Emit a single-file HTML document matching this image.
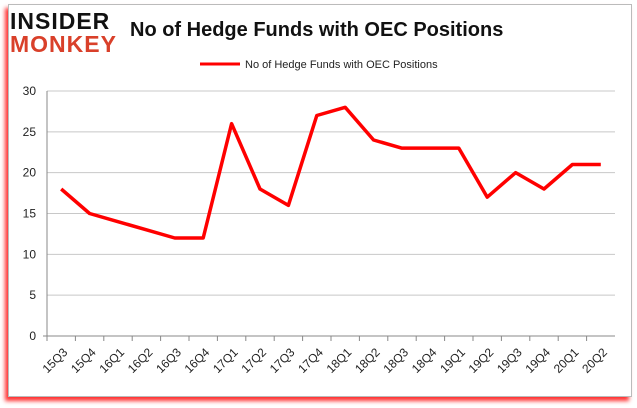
<!DOCTYPE html>
<html><head><meta charset="utf-8"><style>
body{margin:0;width:637px;height:408px;background:#fff;overflow:hidden;font-family:"Liberation Sans",sans-serif}
#frame{position:absolute;left:8px;top:4px;width:622px;height:391px;border:1px solid #bbb;background:#fff;box-shadow:-3px 4px 4px #f33}
</style></head><body>
<div id="frame"></div>
<svg id="c" width="637" height="408" style="position:absolute;left:0;top:0">
<text x="10" y="29" font-size="23" font-weight="bold" fill="#111" font-family="Liberation Sans" letter-spacing="1">INSIDER</text>
<text x="10" y="52" font-size="23" font-weight="bold" fill="#d9402a" font-family="Liberation Sans" letter-spacing="1">MONKEY</text>
<text x="130" y="36" font-size="20" font-weight="bold" fill="#111">No of Hedge Funds with OEC Positions</text>
<line x1="200" y1="64" x2="240" y2="64" stroke="#f00" stroke-width="3"/>
<text x="245" y="68" font-size="11" fill="#222">No of Hedge Funds with OEC Positions</text>
</svg>
<script>
const categories=["15Q3","15Q4","16Q1","16Q2","16Q3","16Q4","17Q1","17Q2","17Q3","17Q4","18Q1","18Q2","18Q3","18Q4","19Q1","19Q2","19Q3","19Q4","20Q1","20Q2"];
const values=[18,15,14,13,12,12,26,18,16,27,28,24,23,23,23,17,20,18,21,21];
const yTicks=[0,5,10,15,20,25,30];
const svg=document.getElementById('c');const NS="http://www.w3.org/2000/svg";
const L=47,R=615,T=91,B=336;
const step=(R-L)/categories.length;
const x=i=>L+step*(i+0.5);
const y=v=>B-(v/30)*(B-T);
function mk(t,a){const e=document.createElementNS(NS,t);for(const k in a)e.setAttribute(k,a[k]);svg.appendChild(e);return e;}
yTicks.forEach(v=>{
 if(v>0){const g=mk('line',{x1:L,x2:R,y1:y(v),y2:y(v),stroke:'#c8c8c8'});
 
 }
 const t=mk('text',{x:L-11,y:y(v)+4,'font-size':12,'text-anchor':'end',fill:'#222'});t.textContent=v;
 
 
});
const ax=mk('line',{x1:L,x2:L,y1:T,y2:B,stroke:'#888'});


const bx=mk('line',{x1:L-4,x2:R,y1:B,y2:B,stroke:'#888'});


categories.forEach((c,i)=>{
 const tk=mk('line',{x1:L+step*i,x2:L+step*i,y1:B,y2:B+5,stroke:'#888'});
 
 
 const tx=x(i)+7,ty=B+17;
 const t=mk('text',{x:tx,y:ty,'font-size':12,'text-anchor':'end',fill:'#222',transform:`rotate(-45 ${tx} ${ty})`});
 t.textContent=c;
 
 
});
const p=mk('polyline',{points:values.map((v,i)=>x(i)+','+y(v)).join(' '),fill:'none',stroke:'#f00','stroke-width':3.5,'stroke-linejoin':'round'});


</script>
</body></html>
